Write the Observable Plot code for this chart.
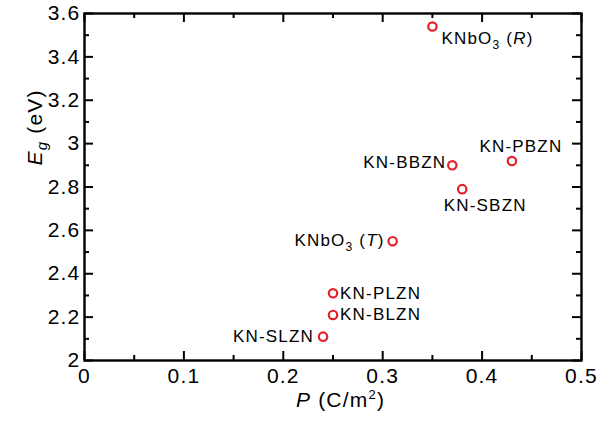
<!DOCTYPE html>
<html><head><meta charset="utf-8">
<script src="https://cdn.jsdelivr.net/npm/d3@7"></script>
<script src="https://cdn.jsdelivr.net/npm/@observablehq/plot@0.6"></script>
<style>body{margin:0;background:#fff} #chart svg{display:block} #chart svg text{letter-spacing:1.2px}</style>
</head><body><div id="chart"></div>
<script>
const names = ["KNbO3 (R)", "KN-PBZN", "KN-BBZN", "KN-SBZN", "KNbO3 (T)", "KN-PLZN", "KN-BLZN", "KN-SLZN"];
const polarization = [0.35, 0.43, 0.37, 0.38, 0.31, 0.25, 0.25, 0.24];
const bandGap = [3.54, 2.92, 2.90, 2.79, 2.55, 2.31, 2.21, 2.11];
const xTicks = [0, 0.1, 0.2, 0.3, 0.4, 0.5];
const xTickLabels = ["0", "0.1", "0.2", "0.3", "0.4", "0.5"];
const xMinorTicks = [0.05, 0.15, 0.25, 0.35, 0.45];
const yTicks = [2, 2.2, 2.4, 2.6, 2.8, 3, 3.2, 3.4, 3.6];
const yTickLabels = ["2", "2.2", "2.4", "2.6", "2.8", "3", "3.2", "3.4", "3.6"];
const yMinorTicks = [2.1, 2.3, 2.5, 2.7, 2.9, 3.1, 3.3, 3.5];

const data = names.map((name, i) => ({name, P: polarization[i], Eg: bandGap[i]}));
const red = "#e3202a";
const font = "'Liberation Sans', Arial, Helvetica, sans-serif";

// label placement relative to each point: [anchor, dx, dy]
const place = {
  "KNbO3 (R)": ["start", 9, 12],
  "KN-PBZN": ["middle", 9, -14],
  "KN-BBZN": ["end", -6, -3],
  "KN-SBZN": ["middle", 23, 16],
  "KNbO3 (T)": ["end", -8, -1],
  "KN-PLZN": ["start", 7, 0],
  "KN-BLZN": ["start", 7, 0],
  "KN-SLZN": ["end", -9, 0]
};

const W = 609, H = 422, mL = 84, mR = 28, mT = 13, mB = 62;
const fw = W - mL - mR, fh = H - mT - mB;
const major = 9, minor = 5;
const tk = {stroke: "black", strokeWidth: 2};

const plot = Plot.plot({
  width: W,
  height: H,
  marginLeft: mL,
  marginRight: mR,
  marginTop: mT,
  marginBottom: mB,
  style: {fontFamily: font, fontSize: "21px"},
  x: {domain: [0, 0.5]},
  y: {domain: [2, 3.6]},
  marks: [
    Plot.axisX({anchor: "bottom", ticks: xTicks, tickSize: 0, tickPadding: 8, tickFormat: d => xTickLabels[xTicks.indexOf(d)], label: null}),
    Plot.axisY({anchor: "left", ticks: yTicks, tickSize: 0, tickPadding: 4, tickFormat: d => yTickLabels[yTicks.indexOf(d)], label: null}),
    Plot.frame({stroke: "black", strokeWidth: 2.4}),
    // inward ticks on all four sides
    Plot.tickX(xTicks, {x: d => d, insetTop: fh - major, ...tk}),
    Plot.tickX(xMinorTicks, {x: d => d, insetTop: fh - minor, ...tk}),
    Plot.tickX(xTicks, {x: d => d, insetBottom: fh - major, ...tk}),
    Plot.tickX(xMinorTicks, {x: d => d, insetBottom: fh - minor, ...tk}),
    Plot.tickY(yTicks, {y: d => d, insetRight: fw - major, ...tk}),
    Plot.tickY(yMinorTicks, {y: d => d, insetRight: fw - minor, ...tk}),
    Plot.tickY(yTicks, {y: d => d, insetLeft: fw - major, ...tk}),
    Plot.tickY(yMinorTicks, {y: d => d, insetLeft: fw - minor, ...tk}),
    Plot.dot(data, {x: "P", y: "Eg", r: 4.2, stroke: red, strokeWidth: 2.2, fill: "white"}),
    ...names.map(n => Plot.text(data.filter(d => d.name === n), {
      x: "P", y: "Eg", text: "name",
      textAnchor: place[n][0], dx: place[n][1], dy: place[n][2],
      fontSize: 17, fill: "black"
    }))
  ]
});

// rich text: subscripts and italics
d3.select(plot).selectAll("text").each(function () {
  const t = this.textContent;
  const m = t.match(/^KNbO3 \((R|T)\)$/);
  if (!m) return;
  const s = d3.select(this);
  s.text("");
  s.append("tspan").text("KNbO");
  s.append("tspan").attr("font-size", "12px").attr("dy", "5").text("3");
  s.append("tspan").attr("dy", "-5").text(" (");
  s.append("tspan").attr("font-style", "italic").text(m[1]);
  s.append("tspan").text(")");
});

// axis titles
const svg = d3.select(plot);
const sx = plot.scale("x"), sy = plot.scale("y");
const xt = svg.append("text")
  .attr("x", (sx.apply(0) + sx.apply(0.5)) / 2 + 8)
  .attr("y", 407)
  .attr("text-anchor", "middle")
  .attr("font-size", 21);
xt.append("tspan").attr("font-style", "italic").text("P");
xt.append("tspan").text(" (C/m");
xt.append("tspan").attr("font-size", "13px").attr("dy", "-8").text("2");
xt.append("tspan").attr("dy", "8").text(")");

const yt = svg.append("text")
  .attr("transform", `translate(42,${sy.apply(3.45) + 120}) rotate(-90)`)
  .attr("text-anchor", "start")
  .attr("font-size", 21);
yt.append("tspan").attr("font-style", "italic").text("E");
yt.append("tspan").attr("font-style", "italic").attr("font-size", "15px").attr("dy", "5").text("g");
yt.append("tspan").attr("dy", "-5").text(" (eV)");

document.getElementById("chart").appendChild(plot);
</script>
</body></html>
